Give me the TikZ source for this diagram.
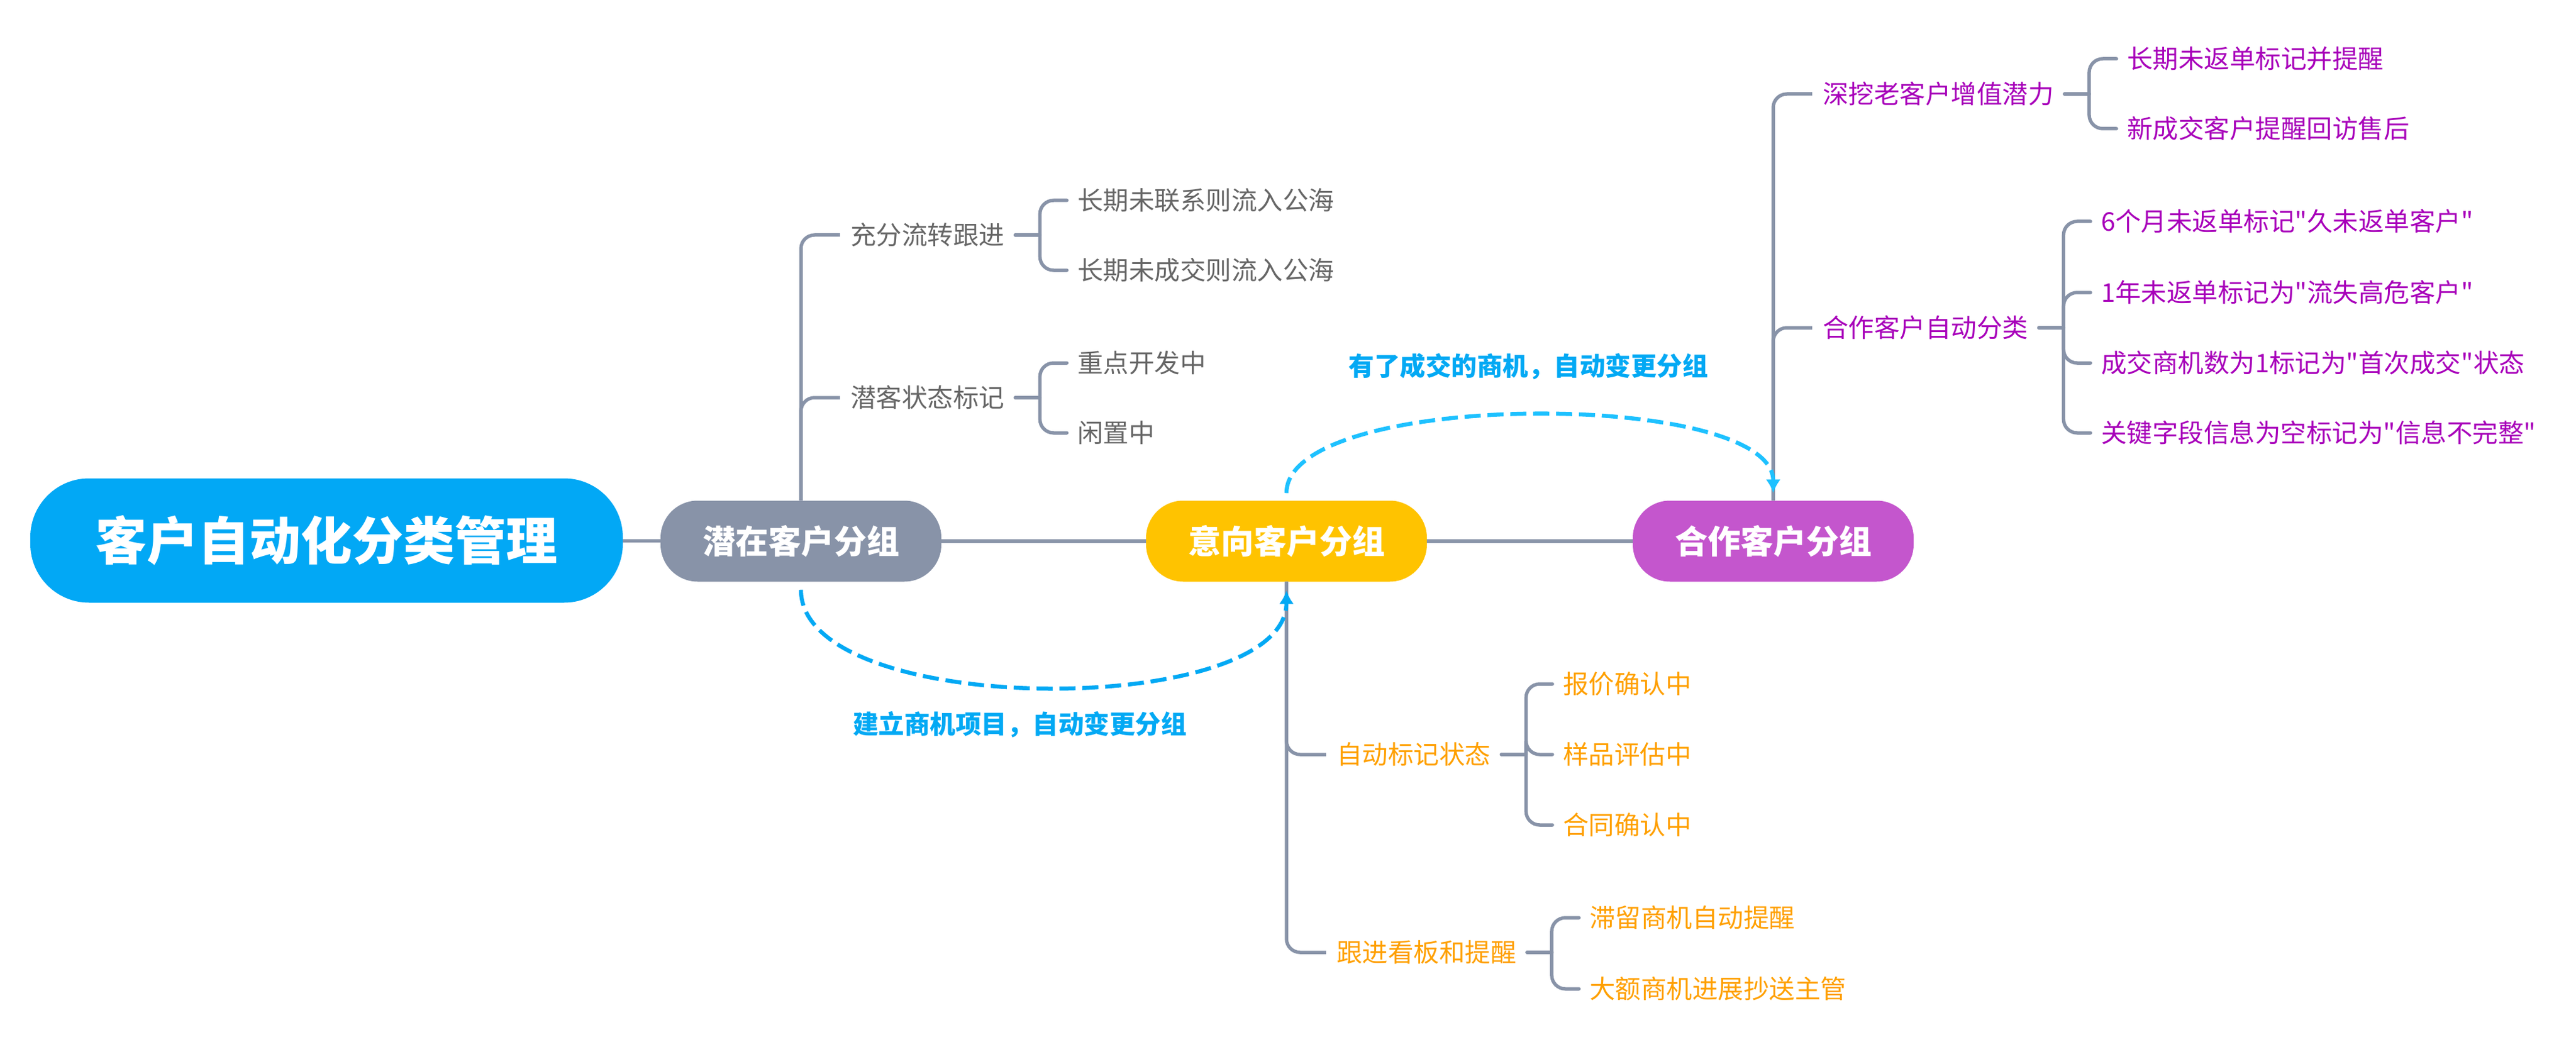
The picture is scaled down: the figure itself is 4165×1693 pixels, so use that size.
\documentclass[tikz,border=0pt]{standalone}
\usepackage{fontspec}
\setmainfont{Noto Sans CJK SC}
\usetikzlibrary{arrows.meta,positioning}
\tikzset{>={Latex[length=22pt,width=24pt]}}

\definecolor{rootblue}{HTML}{02A8F5}
\definecolor{linegray}{HTML}{8893A8}
\definecolor{intyellow}{HTML}{FFC300}
\definecolor{cooppurple}{HTML}{C456CD}
\definecolor{pottext}{HTML}{666666}
\definecolor{inttext}{HTML}{FFA000}
\definecolor{cooptext}{HTML}{A800BA}
\definecolor{moveblue}{HTML}{03A9F4}
\definecolor{movecyan}{HTML}{1EC1FF}

\begin{document}
\begin{tikzpicture}[x=1pt,y=-1pt,
   rootbox/.style={fill=rootblue,text=white,rounded corners=95pt,minimum width=958pt,
      minimum height=201pt,font=\fontsize{83pt}{96pt}\selectfont\bfseries},
   groupbox/.style={text=white,rounded corners=60pt,minimum width=454pt,
      minimum height=131pt,font=\fontsize{53pt}{62pt}\selectfont\bfseries},
   topic/.style={anchor=west,inner xsep=17pt,inner ysep=2pt,font=\fontsize{41.5pt}{50pt}\selectfont},
   pottopic/.style={topic,text=pottext},
   inttopic/.style={topic,text=inttext},
   cooptopic/.style={topic,text=cooptext},
   conn/.style={draw=linegray,line width=5.5pt,line cap=round},
   trunk/.style={conn,line cap=butt,rounded corners=22pt},
   bracket/.style={conn,rounded corners=22pt},
   move/.style={line width=6.5pt,dash pattern=on 26pt off 11pt,->},
   movenote/.style={font=\fontsize{41.5pt}{50pt}\selectfont\bfseries,text=moveblue},
]
\useasboundingbox (0,0) rectangle (4165,1693);

% main line
\node[rootbox] (root) at (528,874) {客户自动化分类管理};
\node[groupbox,fill=linegray] (pot) at (1295,875) {潜在客户分组};
\node[groupbox,fill=intyellow] (int) at (2080,875) {意向客户分组};
\node[groupbox,fill=cooppurple] (coop) at (2867,875) {合作客户分组};
\draw[conn,line cap=butt] (root) -- (pot);
\draw[conn,line cap=butt] (pot) -- (int);
\draw[conn,line cap=butt] (int) -- (coop);

% potential customers
\node[pottopic] (flow) at (1358,380) {充分流转跟进};
\node[pottopic] (tag) at (1358,643) {潜客状态标记};
\node[pottopic] (flow1) at (1725,324) {长期未联系则流入公海};
\node[pottopic] (flow2) at (1725,437) {长期未成交则流入公海};
\node[pottopic] (tag1) at (1725,587) {重点开发中};
\node[pottopic] (tag2) at (1725,700) {闲置中};
\draw[trunk] (pot.north) |- (flow.west);
\draw[trunk] (pot.north) |- (tag.west);
\coordinate (flowfork) at ([xshift=40pt]flow.east);
\coordinate (tagfork) at ([xshift=40pt]tag.east);
\draw[conn] (flow.east) -- (flowfork);
\draw[bracket] (flowfork) |- (flow1.west);
\draw[bracket] (flowfork) |- (flow2.west);
\draw[conn] (tag.east) -- (tagfork);
\draw[bracket] (tagfork) |- (tag1.west);
\draw[bracket] (tagfork) |- (tag2.west);

% intended customers
\node[inttopic] (mark) at (2144,1220) {自动标记状态};
\node[inttopic] (board) at (2144,1540) {跟进看板和提醒};
\node[inttopic] (mark1) at (2510,1106) {报价确认中};
\node[inttopic] (mark2) at (2510,1220) {样品评估中};
\node[inttopic] (mark3) at (2510,1334) {合同确认中};
\node[inttopic] (board1) at (2553,1484) {滞留商机自动提醒};
\node[inttopic] (board2) at (2553,1599) {大额商机进展抄送主管};
\draw[trunk] (int.south) |- (mark.west);
\draw[trunk] (int.south) |- (board.west);
\coordinate (markfork) at ([xshift=40pt]mark.east);
\coordinate (boardfork) at ([xshift=40pt]board.east);
\draw[conn] (mark.east) -- (markfork);
\draw[bracket] (markfork) |- (mark1.west);
\draw[bracket] (markfork) |- (mark2.west);
\draw[bracket] (markfork) |- (mark3.west);
\draw[conn] (board.east) -- (boardfork);
\draw[bracket] (boardfork) |- (board1.west);
\draw[bracket] (boardfork) |- (board2.west);

% cooperating customers
\node[cooptopic] (dig) at (2930,152) {深挖老客户增值潜力};
\node[cooptopic] (sort) at (2930,530) {合作客户自动分类};
\node[cooptopic] (dig1) at (3422,95) {长期未返单标记并提醒};
\node[cooptopic] (dig2) at (3422,208) {新成交客户提醒回访售后};
\node[cooptopic] (sort1) at (3380,358) {6个月未返单标记\textquotedbl 久未返单客户\textquotedbl};
\node[cooptopic] (sort2) at (3380,473) {1年未返单标记为\textquotedbl 流失高危客户\textquotedbl};
\node[cooptopic] (sort3) at (3380,587) {成交商机数为1标记为\textquotedbl 首次成交\textquotedbl 状态};
\node[cooptopic] (sort4) at (3380,700) {关键字段信息为空标记为\textquotedbl 信息不完整\textquotedbl};
\draw[trunk] (coop.north) |- (dig.west);
\draw[trunk] (coop.north) |- (sort.west);
\coordinate (digfork) at ([xshift=40pt]dig.east);
\coordinate (sortfork) at ([xshift=40pt]sort.east);
\draw[conn] (dig.east) -- (digfork);
\draw[bracket] (digfork) |- (dig1.west);
\draw[bracket] (digfork) |- (dig2.west);
\draw[conn] (sort.east) -- (sortfork);
\draw[bracket] (sortfork) |- (sort1.west);
\draw[bracket] (sortfork) |- (sort2.west);
\draw[bracket] (sortfork) |- (sort3.west);
\draw[bracket] (sortfork) |- (sort4.west);

% group changes
\draw[move,moveblue] ([yshift=-13pt]pot.south) .. controls +(0,210) and +(0,208) .. ([yshift=-14pt]int.south);
\draw[move,movecyan] ([yshift=12pt]int.north) .. controls +(0,-168) and +(0,-168) .. ([yshift=12pt]coop.north);
\node[movenote] (dealnote) at (1649,1172) {建立商机项目，自动变更分组};
\node[movenote] (wonnote) at (2471,593) {有了成交的商机，自动变更分组};
\end{tikzpicture}
\end{document}
